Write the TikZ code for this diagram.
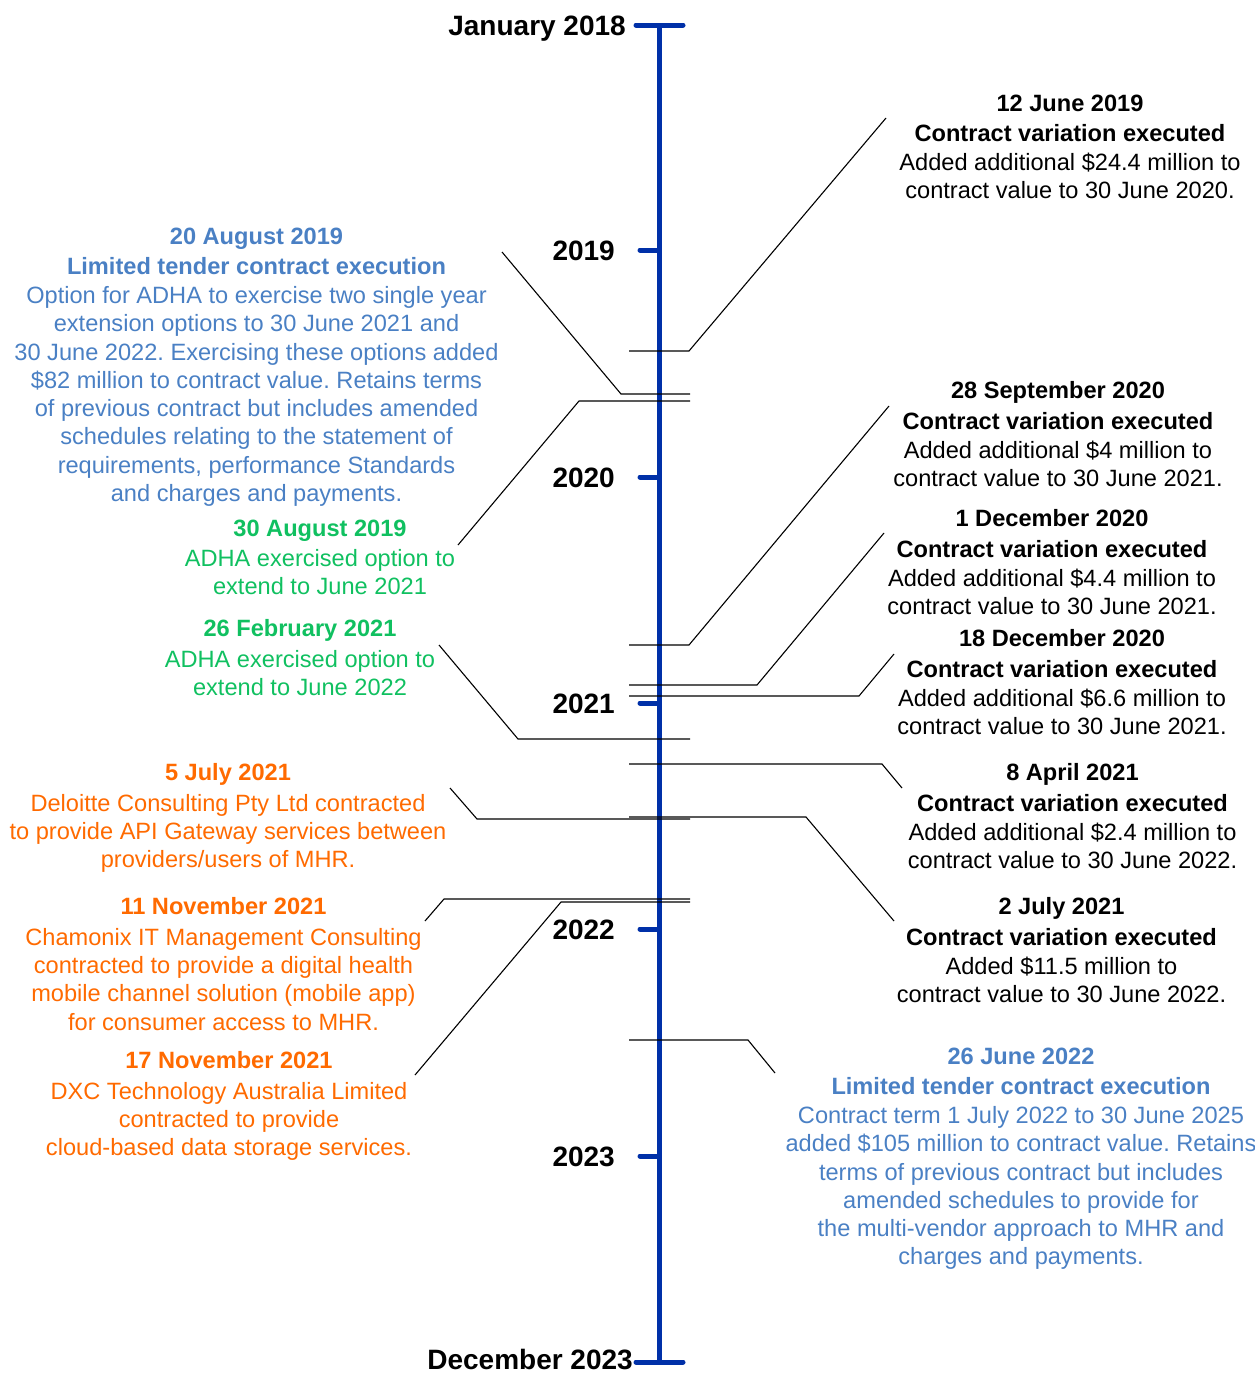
\documentclass[tikz,border=0pt]{standalone}
\usepackage{fontspec}
\setmainfont{Liberation Sans}
\frenchspacing
\definecolor{axisblue}{HTML}{0030A8}
\definecolor{blueT}{HTML}{4A80C4}
\definecolor{greenT}{HTML}{10C060}
\definecolor{orangeT}{HTML}{FF6A00}
\begin{document}
\begin{tikzpicture}[x=1pt,y=-1pt,
  txt/.style={font=\fontsize{23.6}{28.3}\selectfont\frenchspacing, align=center, inner sep=0pt, anchor=north},
  yr/.style={font=\fontsize{28}{32}\selectfont\bfseries, inner sep=0pt, anchor=base east},
  axisline/.style={draw=axisblue, line width=5pt, line cap=round},
  conn/.style={draw=black, line width=1.1pt}]
\useasboundingbox (0,0) rectangle (1255,1373);
% axis
\coordinate (top) at (659,25);
\coordinate (bot) at (659,1362);
\draw[axisblue, line width=5pt] (top) -- (bot);
\coordinate (tl) at (636,25); \coordinate (tr) at (683,25);
\coordinate (bl) at (636,1362); \coordinate (br) at (683,1362);
\draw[axisline] (tl) -- (tr);
\draw[axisline] (bl) -- (br);
\foreach \yy/\nm in {250/a, 477/b, 703/c, 929/d, 1156/e}{
  \coordinate (t\nm1) at (640,\yy); \coordinate (t\nm2) at (659,\yy);
  \draw[axisline] (t\nm1) -- (t\nm2);
}
% year labels
\node[yr] (y18) at (626,35) {January 2018};
\node[yr] (y19) at (615,260) {2019};
\node[yr] (y20) at (615,487) {2020};
\node[yr] (y21) at (615,713) {2021};
\node[yr] (y22) at (615,939) {2022};
\node[yr] (y23) at (615,1166) {2023};
\node[yr] (y23b) at (633,1369) {December 2023};

% right blocks
\node[txt] (jun19) at (1070,94.5) {\textbf{12 June 2019}\\[2pt]\textbf{Contract variation executed}\\[0.7pt]Added additional \$24.4 million to\\contract value to 30 June 2020.};
\node[txt] (sep20) at (1058,381.5) {\textbf{28 September 2020}\\[2pt]\textbf{Contract variation executed}\\[0.7pt]Added additional \$4 million to\\contract value to 30 June 2021.};
\node[txt] (dec1) at (1052,509.5) {\textbf{1 December 2020}\\[2pt]\textbf{Contract variation executed}\\[0.7pt]Added additional \$4.4 million to\\contract value to 30 June 2021.};
\node[txt] (dec18) at (1062,629.5) {\textbf{18 December 2020}\\[2pt]\textbf{Contract variation executed}\\[0.7pt]Added additional \$6.6 million to\\contract value to 30 June 2021.};
\node[txt] (apr21) at (1072.5,763.5) {\textbf{8 April 2021}\\[2pt]\textbf{Contract variation executed}\\[0.7pt]Added additional \$2.4 million to\\contract value to 30 June 2022.};
\node[txt] (jul2) at (1061.5,897.5) {\textbf{2 July 2021}\\[2pt]\textbf{Contract variation executed}\\[0.7pt]Added \$11.5 million to\\contract value to 30 June 2022.};
\node[txt, text=blueT] (jun22) at (1021,1047.5) {\textbf{26 June 2022}\\[2pt]\textbf{Limited tender contract execution}\\[0.7pt]Contract term 1 July 2022 to 30 June 2025\\added \$105 million to contract value. Retains\\terms of previous contract but includes\\amended schedules to provide for\\the multi-vendor approach to MHR and\\charges and payments.};

% left blocks
\node[txt, text=blueT] (aug20) at (256.5,227.5) {\textbf{20 August 2019}\\[2pt]\textbf{Limited tender contract execution}\\[0.7pt]Option for ADHA to exercise two single year\\extension options to 30 June 2021 and\\30 June 2022. Exercising these options added\\\$82 million to contract value. Retains terms\\of previous contract but includes amended\\schedules relating to the statement of\\requirements, performance Standards\\and charges and payments.};
\node[txt, text=greenT] (aug30) at (320,519.5) {\textbf{30 August 2019}\\[2pt]ADHA exercised option to\\extend to June 2021};
\node[txt, text=greenT] (feb26) at (300,619.5) {\textbf{26 February 2021}\\[2pt]ADHA exercised option to\\extend to June 2022};
\node[txt, text=orangeT] (jul5) at (228,763.5) {\textbf{5 July 2021}\\[2pt]Deloitte Consulting Pty Ltd contracted\\to provide API Gateway services between\\providers/users of MHR.};
\node[txt, text=orangeT] (nov11) at (223.5,897.5) {\textbf{11 November 2021}\\[2pt]Chamonix IT Management Consulting\\contracted to provide a digital health\\mobile channel solution (mobile app)\\for consumer access to MHR.};
\node[txt, text=orangeT] (nov17) at (229,1051.5) {\textbf{17 November 2021}\\[2pt]DXC Technology Australia Limited\\contracted to provide\\cloud-based data storage services.};

% connectors
\coordinate (c1a) at (886,118); \coordinate (c1b) at (689,351); \coordinate (c1c) at (629,351);
\coordinate (c2a) at (502,252); \coordinate (c2b) at (621,394); \coordinate (c2c) at (690,394);
\coordinate (c3a) at (458,545); \coordinate (c3b) at (579,401); \coordinate (c3c) at (690,401);
\coordinate (c4a) at (889,406); \coordinate (c4b) at (689,645); \coordinate (c4c) at (629,645);
\coordinate (c5a) at (884,533); \coordinate (c5b) at (757,685); \coordinate (c5c) at (629,685);
\coordinate (c6a) at (894,654); \coordinate (c6b) at (859,696); \coordinate (c6c) at (629,696);
\coordinate (c7a) at (439,645); \coordinate (c7b) at (518,739); \coordinate (c7c) at (690,739);
\coordinate (c8a) at (902,788); \coordinate (c8b) at (882,764); \coordinate (c8c) at (629,764);
\coordinate (c9a) at (894,921); \coordinate (c9b) at (806,817); \coordinate (c9c) at (629,817);
\coordinate (c10a) at (450,788); \coordinate (c10b) at (477,819); \coordinate (c10c) at (690,819);
\coordinate (c11a) at (425,921); \coordinate (c11b) at (444,899); \coordinate (c11c) at (690,899);
\coordinate (c12a) at (415,1075); \coordinate (c12b) at (561,902); \coordinate (c12c) at (690,902);
\coordinate (c13a) at (775,1073); \coordinate (c13b) at (748,1040); \coordinate (c13c) at (629,1040);
\foreach \i in {1,...,13}{
  \draw[conn] (c\i a) -- (c\i b) -- (c\i c);
}
\end{tikzpicture}
\end{document}
